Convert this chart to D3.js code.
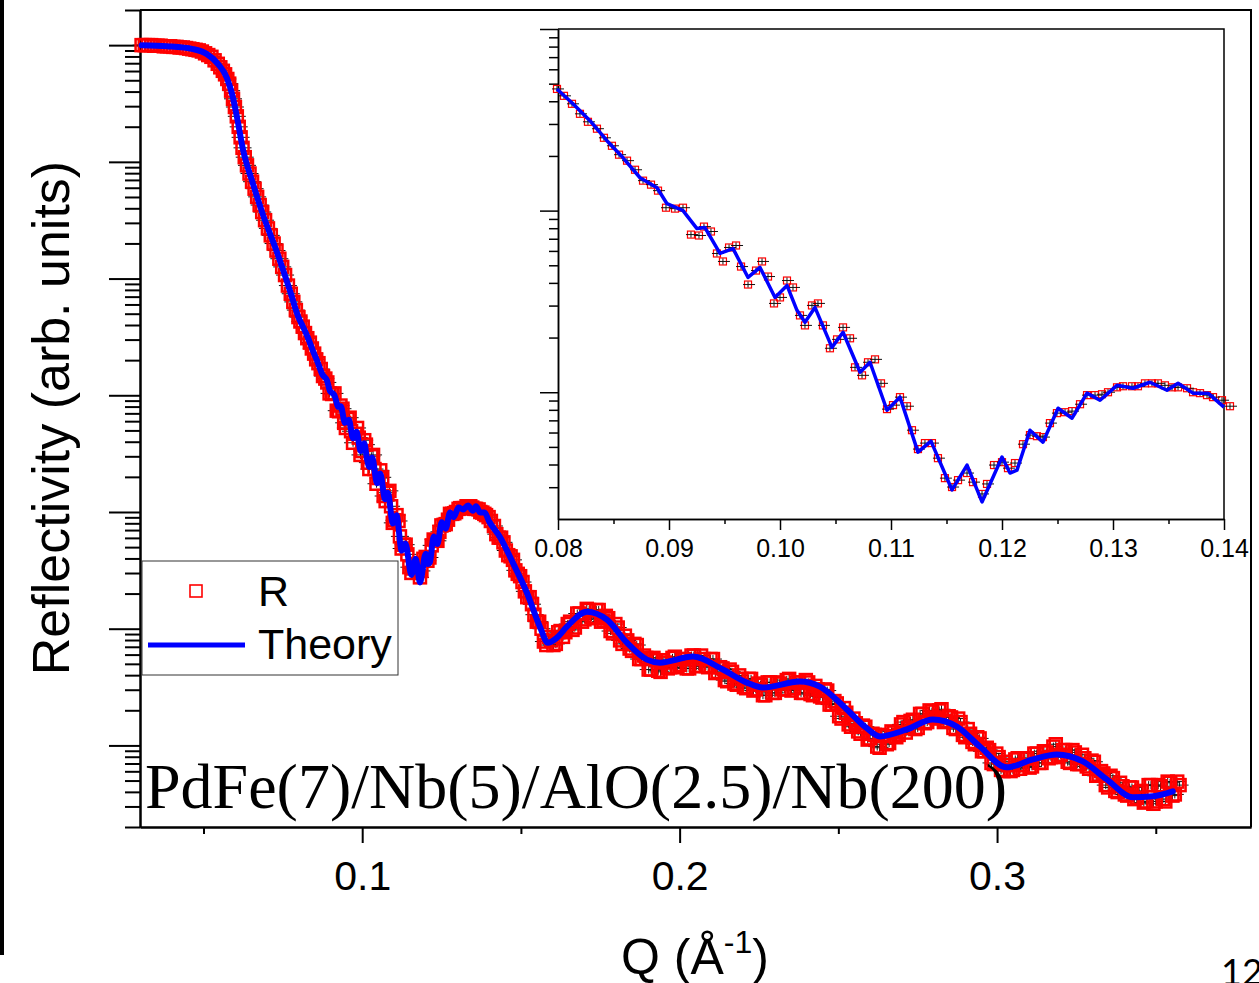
<!DOCTYPE html>
<html>
<head>
<meta charset="utf-8">
<script src="https://cdn.jsdelivr.net/npm/d3@7"></script>
<style>
body { margin: 0; background: #fff; }
svg { display: block; }
</style>
</head>
<body>
<svg id="chart" width="1259" height="983"></svg>
<script>
// measured reflectivity, values stored as log10(R)
var lowQ = [0.0305,0.0315,0.0325,0.0335,0.0345,0.0355,0.0365,0.0375,0.0385,0.0395,0.0405,0.0415,0.0425,0.0435,0.0445,0.0455,0.0465,0.0475,0.0485,0.0495,0.0505,0.0515,0.0525,0.0535,0.0545,
    0.0553,0.0561,0.0568,0.0575,0.0581,0.0587,0.0593,0.0599,0.0605,0.0611,0.0617,0.0623,
    0.0630,0.0637,0.0645,0.0653,0.0661,0.0669,0.0677,0.0685,
    0.0694,0.0703,0.0712,0.0721,0.0730,0.0739,0.0748,0.0757,0.0766,0.0775,0.0783,0.0791];
var lowLogR = [0,0,0,0,-0.005,-0.005,-0.005,-0.01,-0.01,-0.01,-0.015,-0.015,-0.02,-0.02,-0.025,-0.03,-0.035,-0.04,-0.045,-0.055,-0.07,-0.085,-0.10,-0.13,-0.16,
    -0.19,-0.22,-0.25,-0.29,-0.33,-0.39,-0.46,-0.53,-0.61,-0.70,-0.79,-0.88,
    -0.96,-1.03,-1.10,-1.17,-1.23,-1.30,-1.37,-1.43,
    -1.50,-1.57,-1.63,-1.70,-1.76,-1.83,-1.90,-1.97,-2.06,-2.13,-2.20,-2.27];

var insetQ = [0.07991,0.08054,0.08126,0.08198,0.08270,0.08351,0.08414,0.08486,0.08550,0.08622,
    0.08694,0.08766,0.08838,0.08901,0.08973,0.09054,0.09126,0.09198,0.09270,0.09315,
    0.09378,0.09432,0.09486,0.09541,0.09604,0.09649,0.09712,0.09784,0.09838,0.09892,
    0.09946,0.10000,0.10063,0.10117,0.10180,0.10225,0.10288,0.10342,0.10387,0.10450,
    0.10514,0.10568,0.10631,0.10676,0.10739,0.10793,0.10856,0.10910,0.10964,0.11018,
    0.11081,0.11144,0.11189,0.11243,0.11306,0.11369,0.11423,0.11486,0.11550,0.11604,
    0.11685,0.11739,0.11820,0.11865,0.11928,0.12000,0.12054,0.12117,0.12189,0.12252,
    0.12315,0.12369,0.12432,0.12495,0.12568,0.12631,0.12703,0.12766,0.12838,0.12901,
    0.12955,0.13036,0.13090,0.13171,0.13225,0.13288,0.13351,0.13405,0.13468,0.13532,
    0.13586,0.13667,0.13721,0.13784,0.13847,0.13901,0.13982,0.14054];
var insetLogR = [-2.330,-2.368,-2.412,-2.467,-2.511,-2.549,-2.599,-2.643,-2.692,-2.725,
    -2.775,-2.835,-2.857,-2.890,-2.984,-2.989,-2.984,-3.132,-3.137,-3.088,
    -3.115,-3.236,-3.280,-3.203,-3.192,-3.308,-3.407,-3.330,-3.280,-3.363,
    -3.511,-3.478,-3.385,-3.423,-3.577,-3.632,-3.522,-3.511,-3.632,-3.758,
    -3.709,-3.643,-3.703,-3.863,-3.907,-3.835,-3.819,-3.951,-4.093,-4.071,
    -4.027,-4.077,-4.209,-4.313,-4.280,-4.280,-4.363,-4.473,-4.522,-4.484,
    -4.445,-4.495,-4.560,-4.505,-4.401,-4.385,-4.418,-4.390,-4.286,-4.236,
    -4.242,-4.247,-4.170,-4.115,-4.110,-4.104,-4.066,-4.016,-4.016,-4.011,
    -4.000,-3.973,-3.967,-3.967,-3.967,-3.951,-3.951,-3.951,-3.962,-3.973,
    -3.973,-3.978,-4.000,-4.005,-4.016,-4.027,-4.044,-4.077];

var highQ = [0.1415,0.1430,0.1445,0.1460,0.1475,0.1490,0.1505,0.1520,0.1535,0.1550,
    0.1565,0.1580,0.1595,0.1610,0.1625,0.1640,0.1655,0.1670,0.1685,0.1700,
    0.1715,0.1730,0.1745,0.1760,0.1775,0.1790,0.1805,0.1820,0.1835,0.1850,
    0.1865,0.1880,0.1895,0.1910,0.1925,0.1940,0.1955,0.1970,0.1985,0.2000,
    0.2015,0.2030,0.2045,0.2060,0.2075,0.2090,0.2105,0.2120,0.2135,0.2150,
    0.2165,0.2180,0.2195,0.2210,0.2225,0.2240,0.2255,0.2270,0.2285,0.2300,
    0.2315,0.2330,0.2345,0.2360,0.2375,0.2390,0.2405,0.2420,0.2435,0.2450,
    0.2465,0.2480,0.2495,0.2510,0.2525,0.2540,0.2555,0.2570,0.2585,0.2600,
    0.2615,0.2630,0.2645,0.2660,0.2675,0.2690,0.2705,0.2720,0.2735,0.2750,
    0.2765,0.2780,0.2795,0.2810,0.2825,0.2840,0.2855,0.2870,0.2885,0.2900,
    0.2915,0.2930,0.2945,0.2960,0.2975,0.2990,0.3005,0.3020,0.3035,0.3050,
    0.3065,0.3080,0.3095,0.3110,0.3125,0.3140,0.3155,0.3170,0.3185,0.3200,
    0.3215,0.3230,0.3245,0.3260,0.3275,0.3290,0.3305,0.3320,0.3335,0.3350,
    0.3365,0.3380,0.3395,0.3410,0.3425,0.3440,0.3455,0.3470,0.3485,0.3500,
    0.3515,0.3530,0.3545,0.3560,0.3575];
var highLogR = [-4.12,-4.22,-4.26,-4.37,-4.41,-4.53,-4.60,-4.73,-4.79,-4.94,
    -5.00,-5.14,-5.10,-5.13,-5.02,-5.03,-4.94,-4.99,-4.87,-4.92,
    -4.84,-4.91,-4.84,-4.93,-4.91,-5.04,-4.99,-5.13,-5.10,-5.19,
    -5.14,-5.26,-5.25,-5.35,-5.27,-5.37,-5.29,-5.33,-5.24,-5.31,
    -5.26,-5.34,-5.23,-5.32,-5.26,-5.33,-5.26,-5.37,-5.34,-5.45,
    -5.37,-5.48,-5.43,-5.51,-5.43,-5.52,-5.48,-5.57,-5.46,-5.55,
    -5.47,-5.52,-5.43,-5.51,-5.46,-5.55,-5.46,-5.57,-5.52,-5.59,
    -5.53,-5.65,-5.64,-5.77,-5.72,-5.84,-5.81,-5.90,-5.84,-5.94,
    -5.91,-6.02,-5.92,-5.98,-5.89,-5.91,-5.80,-5.85,-5.78,-5.85,
    -5.73,-5.80,-5.71,-5.77,-5.69,-5.79,-5.76,-5.86,-5.80,-5.93,
    -5.90,-5.99,-5.94,-6.05,-6.04,-6.16,-6.10,-6.22,-6.17,-6.21,
    -6.11,-6.17,-6.11,-6.18,-6.07,-6.15,-6.06,-6.10,-5.99,-6.08,
    -6.04,-6.15,-6.06,-6.16,-6.11,-6.20,-6.14,-6.25,-6.24,-6.36,
    -6.28,-6.40,-6.35,-6.43,-6.36,-6.45,-6.39,-6.48,-6.34,-6.48,
    -6.35,-6.48,-6.32,-6.42,-6.34];

// second (interleaved) scan at high Q
var highQb = [0.14225,0.14375,0.14525,0.14675,0.14825,0.14975,0.15125,0.15275,0.15425,0.15575,
    0.15725,0.15875,0.16025,0.16175,0.16325,0.16475,0.16625,0.16775,0.16925,0.17075,
    0.17225,0.17375,0.17525,0.17675,0.17825,0.17975,0.18125,0.18275,0.18425,0.18575,
    0.18725,0.18875,0.19025,0.19175,0.19325,0.19475,0.19625,0.19775,0.19925,0.20075,
    0.20225,0.20375,0.20525,0.20675,0.20825,0.20975,0.21125,0.21275,0.21425,0.21575,
    0.21725,0.21875,0.22025,0.22175,0.22325,0.22475,0.22625,0.22775,0.22925,0.23075,
    0.23225,0.23375,0.23525,0.23675,0.23825,0.23975,0.24125,0.24275,0.24425,0.24575,
    0.24725,0.24875,0.25025,0.25175,0.25325,0.25475,0.25625,0.25775,0.25925,0.26075,
    0.26225,0.26375,0.26525,0.26675,0.26825,0.26975,0.27125,0.27275,0.27425,0.27575,
    0.27725,0.27875,0.28025,0.28175,0.28325,0.28475,0.28625,0.28775,0.28925,0.29075,
    0.29225,0.29375,0.29525,0.29675,0.29825,0.29975,0.30125,0.30275,0.30425,0.30575,
    0.30725,0.30875,0.31025,0.31175,0.31325,0.31475,0.31625,0.31775,0.31925,0.32075,
    0.32225,0.32375,0.32525,0.32675,0.32825,0.32975,0.33125,0.33275,0.33425,0.33575,
    0.33725,0.33875,0.34025,0.34175,0.34325,0.34475,0.34625,0.34775,0.34925,0.35075,
    0.35225,0.35375,0.35525,0.35675];
var highLogRb = [-4.19,-4.22,-4.33,-4.38,-4.50,-4.55,-4.68,-4.73,-4.88,-4.94,
    -5.11,-5.07,-5.14,-5.03,-5.07,-4.96,-5.01,-4.87,-4.94,-4.83,
    -4.90,-4.84,-4.94,-4.89,-5.02,-4.96,-5.10,-5.06,-5.17,-5.13,
    -5.26,-5.23,-5.35,-5.25,-5.36,-5.27,-5.34,-5.25,-5.33,-5.26,
    -5.34,-5.23,-5.32,-5.23,-5.32,-5.26,-5.38,-5.33,-5.44,-5.35,
    -5.47,-5.40,-5.50,-5.43,-5.53,-5.47,-5.57,-5.46,-5.55,-5.46,
    -5.52,-5.44,-5.53,-5.46,-5.55,-5.44,-5.56,-5.49,-5.58,-5.52,
    -5.65,-5.62,-5.75,-5.68,-5.82,-5.77,-5.88,-5.83,-5.95,-5.90,
    -6.01,-5.91,-5.99,-5.88,-5.93,-5.82,-5.89,-5.79,-5.86,-5.73,
    -5.81,-5.70,-5.76,-5.70,-5.80,-5.75,-5.85,-5.77,-5.91,-5.86,
    -5.97,-5.93,-6.05,-6.02,-6.15,-6.07,-6.21,-6.14,-6.22,-6.12,
    -6.20,-6.11,-6.19,-6.07,-6.15,-6.05,-6.11,-6.01,-6.10,-6.04,
    -6.14,-6.04,-6.16,-6.08,-6.18,-6.13,-6.26,-6.22,-6.34,-6.26,
    -6.39,-6.32,-6.42,-6.36,-6.46,-6.40,-6.49,-6.34,-6.50,-6.34,
    -6.46,-6.31,-6.43,-6.31];

// fitted curve, log10(R)
var theoryQ = [0.0305,0.0385,0.0467,0.0511,0.0546,0.0574,0.0590,0.0606,0.0624,0.0656,0.0687,0.0731,0.0772,
    0.0799,0.08135,0.08288,0.08441,0.08586,0.08739,0.08892,0.08982,0.09126,0.09252,
    0.09324,0.09459,0.09577,0.09712,0.09820,0.09955,0.10063,0.10153,0.10225,0.10315,
    0.10468,0.10568,0.10721,0.10811,0.10964,0.11081,0.11243,0.11360,0.11550,0.11685,
    0.11820,0.12000,0.12072,0.12135,0.12252,0.12369,0.12505,0.12631,0.12766,0.12883,
    0.13036,0.13180,0.13333,0.13486,0.13586,0.13721,0.13856,0.14000,
    0.14339,0.14748,0.15189,0.15598,0.15850,0.16134,0.16449,0.17079,0.17709,0.18339,
    0.18969,0.19378,0.20417,0.21362,0.22118,0.22622,0.23787,0.24417,0.25268,0.25866,
    0.26307,0.27157,0.27976,0.28732,0.29457,0.30307,0.31126,0.31882,0.32701,0.33457,
    0.34276,0.34906,0.35535];
var theoryLogR = [0,-0.009,-0.034,-0.077,-0.162,-0.282,-0.419,-0.624,-0.889,-1.188,-1.45,-1.77,-2.10,
    -2.330,-2.412,-2.505,-2.615,-2.709,-2.819,-2.874,-2.962,-3.000,-3.099,
    -3.093,-3.236,-3.209,-3.368,-3.313,-3.478,-3.412,-3.549,-3.615,-3.533,
    -3.753,-3.670,-3.890,-3.835,-4.099,-4.027,-4.330,-4.269,-4.538,-4.401,
    -4.604,-4.357,-4.445,-4.429,-4.209,-4.275,-4.088,-4.143,-4.005,-4.044,
    -3.962,-3.978,-3.945,-3.989,-3.951,-4.005,-4.005,-4.082,
    -4.214,-4.436,-4.692,-4.983,-5.120,-5.077,-4.983,-4.855,-4.923,-5.120,
    -5.265,-5.291,-5.239,-5.350,-5.462,-5.504,-5.453,-5.496,-5.692,-5.846,
    -5.923,-5.863,-5.778,-5.838,-6.009,-6.188,-6.120,-6.077,-6.137,-6.291,
    -6.444,-6.436,-6.393];

var mainXMajor = [0.1, 0.2, 0.3];
var mainXMinor = [0.05, 0.15, 0.25, 0.35];
var insetXMajor = [0.08, 0.09, 0.10, 0.11, 0.12, 0.13, 0.14];
var insetXMinor = [0.085, 0.095, 0.105, 0.115, 0.125, 0.135];

var RED = "#ff0000", BLUE = "#0000ff";
var SANS = "'Liberation Sans', Arial, sans-serif";
var SERIF = "'Liberation Serif', 'Times New Roman', serif";

function toPoints(q, logR) {
    return q.map(function(d, i) { return {q: d, r: Math.pow(10, logR[i])}; });
}

var measured = toPoints(lowQ, lowLogR).concat(toPoints(insetQ, insetLogR),
    toPoints(highQ, highLogR), toPoints(highQb, highLogRb));
var insetMeasured = toPoints(insetQ, insetLogR);
var theory = toPoints(theoryQ, theoryLogR);
var insetTheory = theory.filter(function(d) { return d.q >= 0.0799 && d.q <= 0.1401; });

// log ticks: major = powers of ten, minor = 2..9
function logTicks(scale, major) {
    var dom = scale.domain(), out = [];
    var lo = Math.floor(Math.log10(dom[0])), hi = Math.ceil(Math.log10(dom[1]));
    for (var e = lo; e <= hi; e++)
        for (var m = 1; m <= 9; m++) {
            var v = m * Math.pow(10, e);
            if (v < dom[0] * 0.999 || v > dom[1] * 1.001) continue;
            if ((m == 1) == major) out.push(v);
        }
    return out;
}

var svg = d3.select("#chart");

// slide edge bar on the left
svg.append("rect").attr("x", 0).attr("y", 0).attr("width", 4).attr("height", 955).attr("fill", "black");

// ---------------- main panel ----------------
var x = d3.scaleLinear().domain([0.03, 0.38]).range([140, 1251]);
var y = d3.scaleLog().domain([2e-7, 2]).range([827, 10]);

var mainG = svg.append("g");

function styleAxis(g, w) {
    g.selectAll("path, line").attr("stroke", "black").attr("stroke-width", w);
}

var yMaj = mainG.append("g").attr("transform", "translate(140,0)")
    .call(d3.axisLeft(y).tickValues(logTicks(y, true)).tickSize(31).tickSizeOuter(0).tickFormat(""));
var yMin = mainG.append("g").attr("transform", "translate(140,0)")
    .call(d3.axisLeft(y).tickValues(logTicks(y, false)).tickSize(15).tickSizeOuter(0).tickFormat(""));
styleAxis(yMaj, 2); styleAxis(yMin, 2);

var xMaj = mainG.append("g").attr("transform", "translate(0,827)")
    .call(d3.axisBottom(x).tickValues(mainXMajor).tickSize(16).tickSizeOuter(0).tickFormat(d3.format(".1f")));
var xMin = mainG.append("g").attr("transform", "translate(0,827)")
    .call(d3.axisBottom(x).tickValues(mainXMinor).tickSize(7).tickSizeOuter(0).tickFormat(""));
styleAxis(xMaj, 2); styleAxis(xMin, 2);
xMaj.selectAll("text").attr("y", 63).attr("dy", null)
    .attr("font-family", SANS).attr("font-size", 41).attr("fill", "black");

// top and right frame
mainG.append("path").attr("d", "M140,10H1251V827").attr("fill", "none")
    .attr("stroke", "black").attr("stroke-width", 2);

// error bars, then squares
mainG.append("g").selectAll("path").data(measured).enter().append("path")
    .attr("d", function(d) {
        var px = x(d.q), py = y(d.r);
        return "M" + (px - 9) + "," + py + "H" + (px + 9) + "M" + px + "," + (py - 4) + "V" + (py + 4);
    })
    .attr("stroke", "#111").attr("stroke-width", 1);

mainG.append("g").selectAll("rect").data(measured).enter().append("rect")
    .attr("x", function(d) { return x(d.q) - 6; })
    .attr("y", function(d) { return y(d.r) - 6; })
    .attr("width", 12).attr("height", 12)
    .attr("fill", "none").attr("stroke", RED).attr("stroke-width", 2.5);

var mainLine = d3.line().x(function(d) { return x(d.q); }).y(function(d) { return y(d.r); })
    .curve(d3.curveMonotoneX);
mainG.append("path").datum(theory).attr("d", mainLine)
    .attr("fill", "none").attr("stroke", BLUE).attr("stroke-width", 6)
    .attr("stroke-linejoin", "round").attr("stroke-linecap", "round");

// axis titles
svg.append("text").attr("transform", "translate(69,418) rotate(-90)")
    .attr("text-anchor", "middle").attr("font-family", SANS).attr("font-size", 52)
    .text("Reflectivity (arb. units)");

var xt = svg.append("text").attr("x", 695).attr("y", 974).attr("text-anchor", "middle")
    .attr("font-family", SANS).attr("font-size", 50);
xt.append("tspan").text("Q (Å");
xt.append("tspan").attr("font-size", 32).attr("dy", -21).text("-1");
xt.append("tspan").attr("dy", 21).text(")");

// legend
var leg = svg.append("g");
leg.append("rect").attr("x", 142).attr("y", 561).attr("width", 256).attr("height", 114)
    .attr("fill", "white").attr("stroke", "#333").attr("stroke-width", 1);
leg.append("rect").attr("x", 190).attr("y", 585).attr("width", 12).attr("height", 12)
    .attr("fill", "none").attr("stroke", RED).attr("stroke-width", 1.6);
leg.append("text").attr("x", 258).attr("y", 606).attr("font-family", SANS).attr("font-size", 43).text("R");
leg.append("line").attr("x1", 148).attr("x2", 245).attr("y1", 645).attr("y2", 645)
    .attr("stroke", BLUE).attr("stroke-width", 5);
leg.append("text").attr("x", 258).attr("y", 659).attr("font-family", SANS).attr("font-size", 43).text("Theory");

// sample label
svg.append("text").attr("x", 145).attr("y", 808).attr("font-family", SERIF).attr("font-size", 64)
    .text("PdFe(7)/Nb(5)/AlO(2.5)/Nb(200)");

// ---------------- inset ----------------
var xi = d3.scaleLinear().domain([0.08, 0.14]).range([558, 1224]);
var yi = d3.scaleLog().domain([Math.pow(10, -4.698), 1e-2]).range([519, 29]);

var inG = svg.append("g");
inG.append("rect").attr("x", 558).attr("y", 29).attr("width", 666).attr("height", 490).attr("fill", "white");

var yiMaj = inG.append("g").attr("transform", "translate(558,0)")
    .call(d3.axisLeft(yi).tickValues(logTicks(yi, true)).tickSize(18).tickSizeOuter(0).tickFormat(""));
var yiMin = inG.append("g").attr("transform", "translate(558,0)")
    .call(d3.axisLeft(yi).tickValues(logTicks(yi, false)).tickSize(9).tickSizeOuter(0).tickFormat(""));
styleAxis(yiMaj, 1.5); styleAxis(yiMin, 1.5);

var xiMaj = inG.append("g").attr("transform", "translate(0,519)")
    .call(d3.axisBottom(xi).tickValues(insetXMajor).tickSize(11).tickSizeOuter(0).tickFormat(d3.format(".2f")));
var xiMin = inG.append("g").attr("transform", "translate(0,519)")
    .call(d3.axisBottom(xi).tickValues(insetXMinor).tickSize(5).tickSizeOuter(0).tickFormat(""));
styleAxis(xiMaj, 1.5); styleAxis(xiMin, 1.5);
xiMaj.selectAll("text").attr("y", 38).attr("dy", null)
    .attr("font-family", SANS).attr("font-size", 25).attr("fill", "black");

inG.append("path").attr("d", "M558,29H1224V519").attr("fill", "none")
    .attr("stroke", "black").attr("stroke-width", 1.5);

inG.append("g").selectAll("rect").data(insetMeasured).enter().append("rect")
    .attr("x", function(d) { return xi(d.q) - 3.5; })
    .attr("y", function(d) { return yi(d.r) - 3.5; })
    .attr("width", 7).attr("height", 7)
    .attr("fill", "none").attr("stroke", RED).attr("stroke-width", 1.2);

inG.append("g").selectAll("path").data(insetMeasured).enter().append("path")
    .attr("d", function(d) {
        var px = xi(d.q), py = yi(d.r);
        return "M" + (px - 5) + "," + py + "H" + (px + 7) + "M" + px + "," + (py - 3) + "V" + (py + 3);
    })
    .attr("stroke", "#111").attr("stroke-width", 1);

var insetLine = d3.line().x(function(d) { return xi(d.q); }).y(function(d) { return yi(d.r); });
inG.append("path").datum(insetTheory).attr("d", insetLine)
    .attr("fill", "none").attr("stroke", BLUE).attr("stroke-width", 3.5)
    .attr("stroke-linejoin", "round");

// slide page number
svg.append("text").attr("x", 1221).attr("y", 985).attr("font-family", "Lato, 'Open Sans', sans-serif")
    .attr("font-size", 36).text("12");
</script>
</body>
</html>
